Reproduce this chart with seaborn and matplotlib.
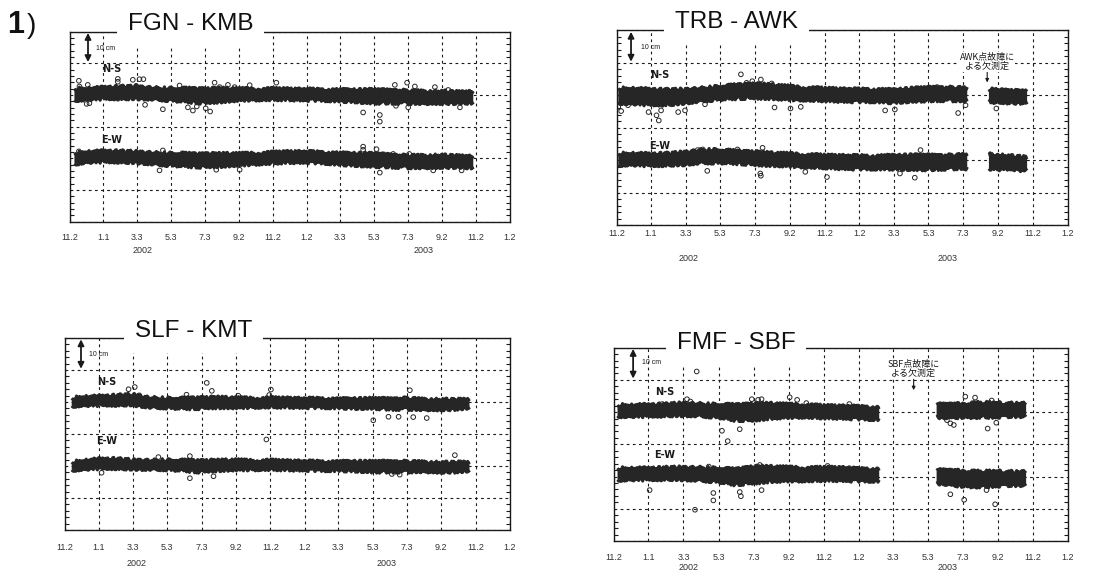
"""GPS baseline length change (N-S / E-W components), four baselines, 2001-2003."""

import matplotlib

matplotlib.use("Agg")
import matplotlib.pyplot as plt
import numpy as np
import pandas as pd
import seaborn as sns
from matplotlib.ticker import MultipleLocator

# ---------------------------------------------------------------- axis data
START = "2001-11-02"
END = "2004-01-02"
TICK_DATES = ["2001-11-02", "2002-01-01", "2002-03-03", "2002-05-03", "2002-07-03",
              "2002-09-02", "2002-11-02", "2003-01-02", "2003-03-03", "2003-05-03",
              "2003-07-03", "2003-09-02", "2003-11-02", "2004-01-02"]
TICK_LABELS = ["11.2", "1.1", "3.3", "5.3", "7.3", "9.2", "11.2",
               "1.2", "3.3", "5.3", "7.3", "9.2", "11.2", "1.2"]
YEAR_LABELS = ["2002", "2003"]

# ---------------------------------------------------------------- FGN - KMB
FGN_DATES = ["2001-11-10", "2001-12-01",
             "2002-01-01", "2002-02-01", "2002-03-01", "2002-04-01", "2002-05-01", "2002-06-01",
             "2002-07-01", "2002-08-01", "2002-09-01", "2002-10-01", "2002-11-01", "2002-12-01",
             "2003-01-01", "2003-02-01", "2003-03-01", "2003-04-01", "2003-05-01", "2003-06-01",
             "2003-07-01", "2003-08-01", "2003-09-01", "2003-10-01", "2003-10-28"]
FGN_NS = [40.2, 40.3, 40.6, 40.8, 40.8, 40.5, 40.2, 40.0, 39.7, 40.0, 40.2, 40.2, 40.3,
          40.2, 40.1, 40.0, 39.9, 39.8, 39.6, 39.5, 39.4, 39.3, 39.3, 39.2, 39.3]
FGN_NS_HW = [1.8, 1.7, 1.7, 1.8, 1.8, 1.7, 1.8, 2.0, 2.2, 2.0, 1.7, 1.6, 1.6,
             1.6, 1.6, 1.6, 1.7, 1.8, 2.0, 1.9, 1.9, 1.8, 1.8, 1.7, 1.7]
FGN_EW = [20.0, 20.4, 20.6, 20.6, 20.4, 20.0, 19.7, 19.5, 19.3, 19.5, 19.7, 19.9, 20.2,
          20.4, 20.4, 20.2, 19.9, 19.7, 19.5, 19.2, 19.0, 19.0, 19.1, 19.0, 18.8]
FGN_EW_HW = [1.7, 1.6, 1.6, 1.6, 1.6, 1.7, 1.8, 1.9, 2.0, 1.9, 1.7, 1.6, 1.6,
             1.6, 1.6, 1.6, 1.7, 1.8, 1.9, 1.8, 1.8, 1.8, 1.8, 1.7, 1.7]
FGN_NS_OUT_DAY = [16, 17, 32, 30, 35, 86, 86, 113, 125, 132, 119, 135, 167, 197, 212, 221, 228, 244,
                  252, 260, 269, 284, 296, 323, 371, 527, 557, 557, 584, 586, 606, 620, 608, 656, 680, 701]
FGN_NS_OUT_VAL = [44.5, 42.7, 43.2, 37.2, 37.4, 45.1, 44.2, 44.8, 45.0, 45.0, 42.9, 36.9, 35.5, 43.0,
                  36.1, 35.1, 36.4, 35.8, 34.8, 43.9, 42.5, 43.2, 42.5, 43.1, 43.9, 34.5, 33.7, 31.6,
                  43.2, 36.6, 43.9, 42.7, 36.1, 42.5, 41.6, 36.1]
FGN_EW_OUT_DAY = [16, 167, 161, 202, 245, 263, 305, 527, 527, 551, 557, 581, 610, 653, 704]
FGN_EW_OUT_VAL = [22.2, 22.5, 16.2, 21.6, 21.4, 16.4, 16.4, 23.7, 22.7, 22.9, 15.5, 21.4, 21.4, 16.2, 16.2]

# ---------------------------------------------------------------- TRB - AWK
AWK_DATES = ["2001-11-05", "2001-12-01",
             "2002-01-01", "2002-02-01", "2002-03-01", "2002-04-01", "2002-05-01", "2002-06-01",
             "2002-07-01", "2002-08-01", "2002-09-01", "2002-10-01", "2002-11-01", "2002-12-01",
             "2003-01-01", "2003-02-01", "2003-03-01", "2003-04-01", "2003-05-01", "2003-06-01",
             "2003-07-01", "2003-07-10", "2003-07-28", "2003-08-17", "2003-09-01", "2003-10-01",
             "2003-10-23"]
AWK_NS = [40.0, 39.8, 39.5, 39.5, 39.8, 40.3, 40.8, 41.2, 41.4, 41.2, 40.8, 40.5, 40.3, 40.1,
          40.0, 40.0, 39.8, 40.2, 40.4, 40.5, 40.4, 40.2, np.nan, 40.0, 39.8, 39.6, 39.5]
AWK_NS_HW = [2.2, 2.3, 2.3, 2.2, 2.0, 1.9, 1.9, 2.0, 2.1, 2.0, 1.9, 1.8, 1.8, 1.8,
             1.8, 1.8, 1.9, 1.9, 1.9, 1.9, 1.9, 1.9, np.nan, 1.9, 1.8, 1.8, 1.7]
AWK_EW = [20.4, 20.4, 20.2, 20.4, 20.7, 21.3, 21.3, 21.0, 20.7, 20.4, 20.2, 19.9, 19.7, 19.5,
          19.4, 19.4, 19.5, 19.5, 19.4, 19.5, 19.7, 19.5, np.nan, 19.7, 19.5, 19.2, 18.9]
AWK_EW_HW = [1.7, 1.7, 1.7, 1.7, 1.8, 1.9, 1.9, 1.8, 1.9, 1.8, 1.8, 1.8, 1.8, 1.9,
             1.9, 1.9, 2.0, 2.1, 2.1, 2.0, 2.0, 2.0, np.nan, 2.2, 2.2, 2.1, 2.0]
AWK_NS_OUT_DAY = [3, 8, 20, 56, 70, 74, 78, 108, 120, 155, 218, 228, 238, 253, 272, 277, 305, 323,
                  471, 488, 562, 599, 612, 666]
AWK_NS_OUT_VAL = [36.5, 35.2, 37.0, 34.9, 33.9, 32.3, 35.4, 34.9, 35.4, 37.3, 46.5, 43.9, 44.4, 44.9,
                  43.7, 36.3, 36.0, 36.5, 35.4, 35.7, 42.6, 34.6, 37.0, 36.0]
AWK_EW_OUT_DAY = [142, 151, 159, 212, 252, 253, 256, 331, 369, 497, 523, 533, 657]
AWK_EW_OUT_VAL = [23.2, 23.4, 16.8, 23.4, 16.0, 15.3, 23.9, 16.5, 14.9, 16.0, 14.7, 23.2, 21.8]

# ---------------------------------------------------------------- SLF - KMT
SLF_DATES = ["2001-11-14", "2001-12-01",
             "2002-01-01", "2002-02-01", "2002-03-01", "2002-04-01", "2002-05-01", "2002-06-01",
             "2002-07-01", "2002-08-01", "2002-09-01", "2002-10-01", "2002-11-01", "2002-12-01",
             "2003-01-01", "2003-02-01", "2003-03-01", "2003-04-01", "2003-05-01", "2003-06-01",
             "2003-07-01", "2003-08-01", "2003-09-01", "2003-10-01", "2003-10-22"]
SLF_NS = [40.0, 40.3, 40.4, 40.6, 40.8, 39.9, 39.7, 39.6, 39.7, 39.9, 39.8, 39.8, 39.9,
          39.8, 39.7, 39.7, 39.6, 39.6, 39.6, 39.4, 39.5, 39.3, 39.2, 39.3, 39.5]
SLF_NS_HW = [1.2, 1.3, 1.3, 1.4, 1.5, 1.4, 1.4, 1.5, 1.6, 1.5, 1.4, 1.3, 1.3,
             1.3, 1.3, 1.3, 1.3, 1.4, 1.4, 1.5, 1.6, 1.5, 1.5, 1.4, 1.3]
SLF_EW = [20.0, 20.3, 20.7, 20.8, 20.5, 20.4, 20.4, 20.2, 19.9, 20.2, 20.4, 20.3, 20.4,
          20.2, 20.1, 20.0, 20.0, 20.0, 19.8, 19.8, 19.8, 19.8, 19.6, 19.7, 19.8]
SLF_EW_HW = [1.2, 1.3, 1.4, 1.4, 1.3, 1.3, 1.4, 1.5, 1.7, 1.5, 1.4, 1.3, 1.3,
             1.3, 1.3, 1.3, 1.3, 1.4, 1.5, 1.5, 1.5, 1.4, 1.4, 1.4, 1.3]
SLF_NS_OUT_DAY = [113, 124, 132, 216, 252, 261, 308, 366, 363, 548, 575, 593, 613, 643, 619]
SLF_NS_OUT_VAL = [44.0, 44.7, 42.1, 42.3, 46.0, 43.5, 42.0, 43.9, 42.2, 34.3, 35.4, 35.4, 43.7, 35.0, 35.3]
SLF_EW_OUT_DAY = [358, 65, 166, 222, 222, 264, 693, 581, 595]
SLF_EW_OUT_VAL = [28.3, 17.9, 22.8, 23.1, 16.2, 16.8, 23.4, 17.5, 17.3]

# ---------------------------------------------------------------- FMF - SBF
SBF_DATES = ["2001-11-08", "2001-12-01",
             "2002-01-01", "2002-02-01", "2002-03-01", "2002-04-01", "2002-05-01", "2002-06-01",
             "2002-07-01", "2002-08-01", "2002-09-01", "2002-10-01", "2002-11-01", "2002-12-01",
             "2003-01-01", "2003-02-07", "2003-04-01", "2003-05-18", "2003-06-01", "2003-07-01",
             "2003-08-01", "2003-09-01", "2003-10-01", "2003-10-21"]
SBF_NS = [40.5, 40.4, 40.5, 40.7, 40.9, 40.7, 40.4, 39.9, 40.0, 40.4, 40.4, 40.4, 40.1, 40.0,
          39.8, 39.6, np.nan, 40.4, 40.4, 40.5, 40.7, 40.7, 40.7, 40.7]
SBF_NS_HW = [1.7, 1.7, 1.7, 1.7, 1.8, 1.8, 1.9, 2.3, 2.5, 2.2, 1.9, 1.8, 1.8, 1.8,
             1.8, 1.8, np.nan, 1.9, 2.0, 2.0, 2.2, 2.1, 1.9, 1.9]
SBF_EW = [20.8, 20.8, 20.8, 21.0, 21.0, 20.8, 20.5, 19.9, 20.5, 20.8, 20.8, 20.7, 20.8, 20.8,
          20.5, 20.5, np.nan, 19.9, 19.9, 19.4, 19.2, 19.4, 19.4, 19.4]
SBF_EW_HW = [1.8, 1.7, 1.7, 1.7, 1.8, 1.9, 2.0, 2.3, 2.5, 2.2, 2.0, 1.9, 1.9, 1.9,
             1.8, 1.8, np.nan, 2.0, 2.1, 2.3, 2.3, 2.2, 2.0, 2.0]
SBF_NS_OUT_DAY = [144, 84, 127, 133, 182, 188, 219, 198, 240, 251, 257, 306, 319, 335, 410,
                  612, 629, 658, 592, 651, 666, 580, 586]
SBF_NS_OUT_VAL = [52.6, 42.5, 44.0, 43.3, 41.7, 34.2, 34.7, 31.0, 44.0, 43.8, 44.0, 44.6, 43.8,
                  42.8, 42.5, 44.8, 44.5, 43.6, 36.0, 34.9, 36.7, 37.5, 36.5]
SBF_EW_OUT_DAY = [62, 165, 173, 173, 141, 221, 219, 254, 257, 320, 372, 410, 586, 610, 664, 649, 592, 626]
SBF_EW_OUT_VAL = [15.8, 23.1, 14.9, 12.6, 9.7, 13.9, 15.2, 23.6, 15.8, 21.5, 23.3, 22.6, 14.5,
                  12.8, 11.4, 15.8, 21.5, 21.2]

PANELS = [
    dict(title="FGN - KMB", dates=FGN_DATES,
         series=[(FGN_NS, FGN_NS_HW, FGN_NS_OUT_DAY, FGN_NS_OUT_VAL),
                 (FGN_EW, FGN_EW_HW, FGN_EW_OUT_DAY, FGN_EW_OUT_VAL)],
         note=None),
    dict(title="TRB - AWK", dates=AWK_DATES,
         series=[(AWK_NS, AWK_NS_HW, AWK_NS_OUT_DAY, AWK_NS_OUT_VAL),
                 (AWK_EW, AWK_EW_HW, AWK_EW_OUT_DAY, AWK_EW_OUT_VAL)],
         note="AWK点故障に\nよる欠測定"),
    dict(title="SLF - KMT", dates=SLF_DATES,
         series=[(SLF_NS, SLF_NS_HW, SLF_NS_OUT_DAY, SLF_NS_OUT_VAL),
                 (SLF_EW, SLF_EW_HW, SLF_EW_OUT_DAY, SLF_EW_OUT_VAL)],
         note=None),
    dict(title="FMF - SBF", dates=SBF_DATES,
         series=[(SBF_NS, SBF_NS_HW, SBF_NS_OUT_DAY, SBF_NS_OUT_VAL),
                 (SBF_EW, SBF_EW_HW, SBF_EW_OUT_DAY, SBF_EW_OUT_VAL)],
         note="SBF点故障に\nよる欠測定"),
]

# ---------------------------------------------------------------- layout only
LAYOUT = [
    dict(rect=[0.0632, 0.6131, 0.3975, 0.3316], title_x=0.132, title_y=1.008, pad=8.0,
         year_y=-0.15, year_x=["2002-03-13", "2003-07-30"], arrow_x=0.041, cm_xy=(0.060, 54.8),
         ns_xy=(0.095, 48.2), ew_xy=(0.095, 25.8), note_xy=None),
    dict(rect=[0.5570, 0.6065, 0.4074, 0.3403], title_x=0.130, title_y=1.012, pad=2.5,
         year_y=-0.167, year_x=["2002-03-09", "2003-06-06"], arrow_x=0.032, cm_xy=(0.053, 54.8),
         ns_xy=(0.095, 46.4), ew_xy=(0.095, 24.4), note_xy=("2003-08-14", 47.6, 44.0)),
    dict(rect=[0.0587, 0.0750, 0.4020, 0.3350], title_x=0.157, title_y=1.004, pad=9.5,
         year_y=-0.172, year_x=["2002-03-10", "2003-05-28"], arrow_x=0.036, cm_xy=(0.053, 54.8),
         ns_xy=(0.094, 46.4), ew_xy=(0.094, 27.9), note_xy=None),
    dict(rect=[0.5547, 0.0558, 0.4101, 0.3375], title_x=0.138, title_y=0.995, pad=8.5,
         year_y=-0.135, year_x=["2002-03-12", "2003-06-06"], arrow_x=0.042, cm_xy=(0.061, 55.3),
         ns_xy=(0.112, 46.3), ew_xy=(0.112, 26.6), note_xy=("2003-04-08", 50.6, 46.8)),
]

BAND = "#262626"
INK = "#1a1a1a"
SKETCH = (1.7, 2.5, 3.0)

sns.set_style("white")
plt.rcParams["font.family"] = ["Liberation Sans", "Noto Sans CJK JP", "DejaVu Sans"]

fig = plt.figure(figsize=(11.07, 5.73), dpi=100)
start = pd.Timestamp(START)

for panel, lay in zip(PANELS, LAYOUT):
    ax = fig.add_axes(lay["rect"])
    dates = pd.to_datetime(panel["dates"])

    for mid, hw, out_day, out_val in panel["series"]:
        mid = np.asarray(mid, dtype=float)
        hw = np.asarray(hw, dtype=float)
        ax.fill_between(dates, mid - hw, mid + hw, facecolor=BAND, edgecolor="none", zorder=3)
        # ragged edges of the dense daily point cloud
        for edge in (mid - hw, mid + hw):
            ln, = ax.plot(dates, edge, color=BAND, lw=2.2, zorder=3, solid_capstyle="butt")
            ln.set_sketch_params(*SKETCH)
        out = pd.DataFrame({
            "date": start + pd.to_timedelta(out_day, unit="D"),
            "val": out_val,
        })
        sns.scatterplot(data=out, x="date", y="val", ax=ax, color=BAND, marker="o", s=11,
                        facecolor="none", edgecolor=BAND, linewidth=0.7, zorder=4, legend=False)

    ax.set_xlim(pd.Timestamp(START), pd.Timestamp(END))
    ax.set_ylim(0, 60)
    ax.set_xlabel("")
    ax.set_ylabel("")
    ax.set_xticks(pd.to_datetime(TICK_DATES))
    ax.set_xticklabels(TICK_LABELS)
    ax.set_yticks(np.arange(0, 61, 10))
    ax.yaxis.set_minor_locator(MultipleLocator(2))
    ax.tick_params(axis="x", direction="in", length=4, width=0.8, color=INK,
                   labelsize=6.5, labelcolor="#333333", pad=lay["pad"], top=False)
    ax.tick_params(axis="y", which="both", direction="in", left=True, right=True,
                   labelleft=False, color=INK, width=0.8)
    ax.tick_params(axis="y", which="major", length=0)
    ax.tick_params(axis="y", which="minor", length=3)
    ax.grid(True, which="major", color=INK, linestyle=(0, (2.5, 3)), linewidth=0.8)
    for sp in ax.spines.values():
        sp.set_color(INK)
        sp.set_linewidth(1.0)
        sp.set_visible(True)

    for label, xd in zip(YEAR_LABELS, lay["year_x"]):
        ax.text(pd.Timestamp(xd), lay["year_y"], label, transform=ax.get_xaxis_transform(),
                ha="center", va="center", fontsize=6.5, color="#333333")

    ax.text(lay["title_x"], lay["title_y"], panel["title"], transform=ax.transAxes,
            ha="left", va="baseline", fontsize=17.5, color="#111111", zorder=10,
            bbox=dict(facecolor="white", edgecolor="none", boxstyle="square,pad=0.45"),
            clip_on=False)

    ytr = ax.get_yaxis_transform()
    ax.annotate("", xy=(lay["arrow_x"], 50.4), xytext=(lay["arrow_x"], 59.6),
                xycoords=ytr, textcoords=ytr,
                arrowprops=dict(arrowstyle="<|-|>", color=INK, lw=1.3, mutation_scale=9,
                                shrinkA=0, shrinkB=0))
    ax.text(lay["cm_xy"][0], lay["cm_xy"][1], "10 cm", transform=ytr,
            ha="left", va="center", fontsize=5, color=INK)
    ax.text(lay["ns_xy"][0], lay["ns_xy"][1], "N-S", transform=ytr, ha="center",
            va="center", fontsize=7, fontweight="bold", color=INK, family="DejaVu Sans")
    ax.text(lay["ew_xy"][0], lay["ew_xy"][1], "E-W", transform=ytr, ha="center",
            va="center", fontsize=7, fontweight="bold", color=INK, family="DejaVu Sans")

    if panel["note"]:
        nx, ny, tip = lay["note_xy"]
        ax.text(pd.Timestamp(nx), ny, panel["note"], ha="center", va="bottom", fontsize=6.5,
                linespacing=1.0, color=INK, family=["Noto Sans CJK JP", "DejaVu Sans"],
                zorder=6, bbox=dict(facecolor="white", edgecolor="none", pad=0.5))
        ax.annotate("", xy=(pd.Timestamp(nx), tip), xytext=(pd.Timestamp(nx), ny - 0.4),
                    arrowprops=dict(arrowstyle="-|>", color=INK, lw=0.8, mutation_scale=5,
                                    shrinkA=0, shrinkB=0))

fig.text(0.006, 1 - 33 / 573, "1", fontsize=22, fontweight="bold", color="#111111",
         va="baseline", ha="left")
fig.text(0.024, 1 - 33 / 573, ")", fontsize=20, color="#111111", va="baseline", ha="left")

fig.savefig("out.png", dpi=100)
